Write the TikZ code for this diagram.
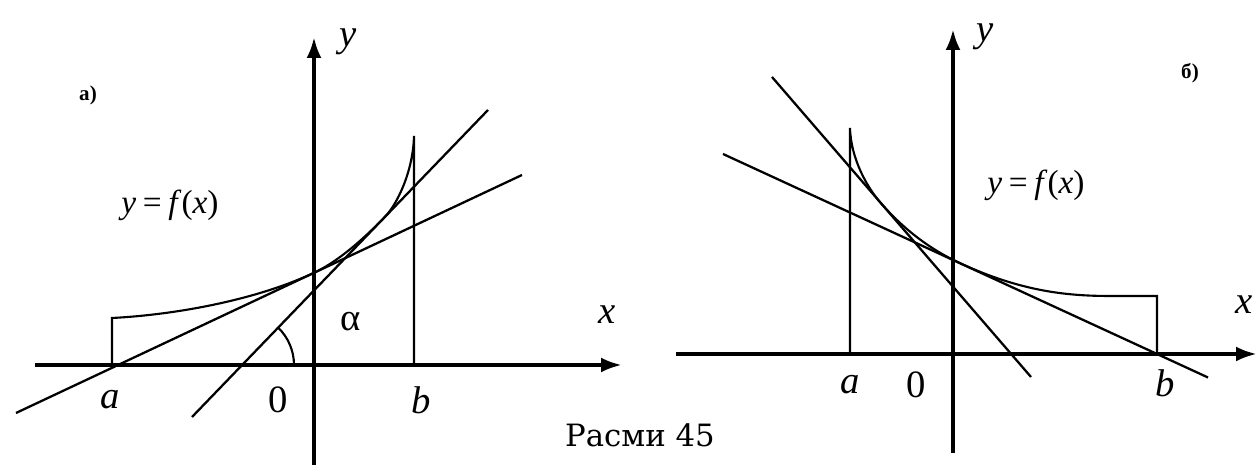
\documentclass[tikz,border=0pt]{standalone}
\usepackage{fontspec}
\setmainfont{Liberation Serif}
\newfontfamily\capfont{DejaVu Serif}
\usetikzlibrary{arrows.meta}
\begin{document}
\begin{tikzpicture}[x=0.02cm,y=0.02cm,
axisline/.style={line width=2.2pt,-{Latex[length=0.42cm,width=0.3cm]}},
tline/.style={line width=1.3pt},
fcurve/.style={line width=1.2pt},
lbl/.style={font=\fontsize{22}{26}\selectfont,inner sep=0pt},
eqn/.style={font=\fontsize{19}{22}\selectfont,inner sep=0pt},
tag/.style={font=\fontsize{12}{14}\selectfont\bfseries,inner sep=0pt}]
\useasboundingbox (0,0) rectangle (1259,465);
\coordinate (xa0) at (35,100);
\coordinate (xa1) at (622,100);
\coordinate (ya0) at (314,0);
\coordinate (ya1) at (314,428);
\coordinate (pa) at (112,100);
\coordinate (pb) at (414,100);
\coordinate (fa) at (112,147);
\coordinate (fb) at (414,329);
\coordinate (sa0) at (16,52);
\coordinate (sa1) at (522,290);
\coordinate (ka0) at (192,48);
\coordinate (ka1) at (488,355);
\coordinate (ka) at (242,100);
\draw[axisline] (xa0) -- (xa1);
\draw[axisline] (ya0) -- (ya1);
\draw[tline] (sa0) -- (sa1);
\draw[tline] (ka0) -- (ka1);
\draw[fcurve] (pa) -- (fa) .. controls (172,150) and (254,164) .. (314,192.2) .. controls (334.7,201.9) and (358.3,220.6) .. (385,248.2) .. controls (397,260.6) and (413,293) .. (fb) -- (pb);
\draw[fcurve] ([shift={(52,0)}]ka) arc[start angle=0,end angle=46,radius=1.04cm];
\node[tag] (ta) at (88,370) {а)};
\node[lbl] (ylab) at (348,423) {\textit{y}};
\node[lbl] (xlab) at (607,150) {\textit{x}};
\node[eqn] (eqa) at (170,260) {\textit{y}\hspace{0.2em}=\hspace{0.2em}\textit{f}(\textit{x})};
\node[lbl] (alpha) at (351,143) {α};
\node[lbl] (la) at (110,65) {\textit{a}};
\node[lbl] (l0) at (278,65) {0};
\node[lbl] (lb) at (421,65) {\textit{b}};
\coordinate (xb0) at (676,111);
\coordinate (xb1) at (1257,111);
\coordinate (yb0) at (953,12);
\coordinate (yb1) at (953,436);
\coordinate (pab) at (850,111);
\coordinate (pbb) at (1157,111);
\coordinate (fab) at (850,337);
\coordinate (fbb) at (1157,169);
\coordinate (kb0) at (772,388);
\coordinate (kb1) at (1031,88);
\coordinate (sb0) at (723,311);
\coordinate (sb1) at (1208,87.5);
\draw[axisline] (xb0) -- (xb1);
\draw[axisline] (yb0) -- (yb1);
\draw[tline] (kb0) -- (kb1);
\draw[tline] (sb0) -- (sb1);
\draw[fcurve] (pab) -- (fab) .. controls (851,305) and (868,276.8) .. (880,262.9) .. controls (903.2,236) and (929.9,215.7) .. (960,201.8) .. controls (1020,174.2) and (1065,169) .. (1110,169) -- (fbb) -- (pbb);
\node[tag] (tb) at (1190,392) {б)};
\node[lbl] (ylbb) at (985,428) {\textit{y}};
\node[lbl] (xlbb) at (1244,160) {\textit{x}};
\node[eqn] (eqb) at (1036,280) {\textit{y}\hspace{0.2em}=\hspace{0.2em}\textit{f}(\textit{x})};
\node[lbl] (lab) at (850,80) {\textit{a}};
\node[lbl] (l0b) at (916,80) {0};
\node[lbl] (lbb) at (1165,82) {\textit{b}};
\node[font=\capfont\fontsize{17.5}{20}\selectfont,inner sep=0pt] (cap) at (640,30) {Расми 45};
\end{tikzpicture}
\end{document}
